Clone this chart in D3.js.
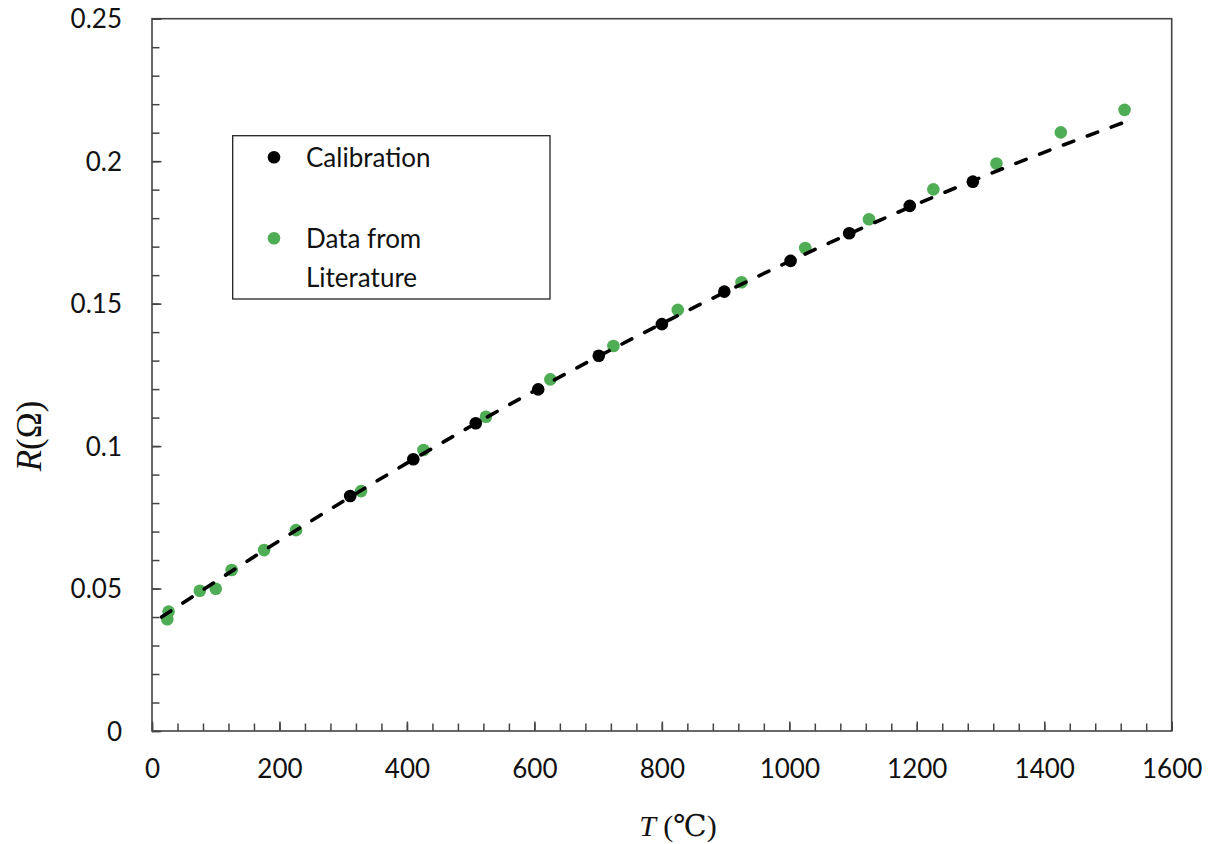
<!DOCTYPE html>
<html>
<head>
<meta charset="utf-8">
<script src="https://cdn.jsdelivr.net/npm/d3@7"></script>
<style>
  html, body { margin: 0; padding: 0; background: #fff; }
  svg { display: block; }
</style>
</head>
<body>
<svg id="chart" width="1216" height="844"></svg>
<script>
// ---- Data ----
const calT = [311, 410, 508, 606, 701, 800, 898, 1002, 1094, 1189, 1288];
const calR = [0.0825, 0.0954, 0.1080, 0.1199, 0.1317, 0.1428, 0.1542, 0.1650, 0.1747, 0.1843, 0.1928];

const litT = [24, 26, 75, 100, 125, 176, 226, 328, 426, 524, 625, 724, 825, 925, 1025, 1125, 1226, 1325, 1426, 1526];
const litR = [0.0392, 0.0419, 0.0492, 0.0499, 0.0565, 0.0635, 0.0705, 0.0842, 0.0986, 0.1103, 0.1234, 0.1351, 0.1478, 0.1575, 0.1695, 0.1796, 0.1901, 0.1992, 0.2101, 0.2180];

// dashed trend line
const trendT = [15, 200, 400, 600, 800, 1000, 1200, 1400, 1525];
const trendR = [0.0400, 0.0668, 0.0940, 0.1194, 0.1430, 0.1648, 0.1849, 0.2031, 0.2136];

const xTickValues = [0, 200, 400, 600, 800, 1000, 1200, 1400, 1600];
const yTickValues = [0, 0.05, 0.1, 0.15, 0.2, 0.25];
const yTickLabels = ["0", "0.05", "0.1", "0.15", "0.2", "0.25"];
const legendLabels = ["Calibration", ["Data from", "Literature"]];

// ---- Layout ----
const svg = d3.select("#chart");
const pLeft = 152, pRight = 1171.7, pTop = 18.7, pBottom = 731;
const x = d3.scaleLinear().domain([0, 1600]).range([pLeft, pRight]);
const y = d3.scaleLinear().domain([0, 0.25]).range([pBottom, pTop]);

const axisColor = "#444";
const tickFont = "Lato, 'Open Sans', sans-serif";
const green = "#4FAE55";

// frame
svg.append("rect")
  .attr("x", pLeft).attr("y", pTop)
  .attr("width", pRight - pLeft).attr("height", pBottom - pTop)
  .attr("fill", "none").attr("stroke", axisColor).attr("stroke-width", 1.6);

// minor ticks
const xMinor = d3.range(0, 1601, 40);
const yMinor = d3.range(0, 26).map(i => i / 100);

svg.append("g").attr("transform", `translate(0,${pBottom})`)
  .call(d3.axisBottom(x).tickValues(xMinor).tickSize(-7.5).tickFormat(""))
  .call(g => g.select(".domain").remove())
  .call(g => g.selectAll("line").attr("stroke", axisColor).attr("stroke-width", 1.5));

svg.append("g").attr("transform", `translate(${pLeft},0)`)
  .call(d3.axisLeft(y).tickValues(yMinor).tickSize(-7.5).tickFormat(""))
  .call(g => g.select(".domain").remove())
  .call(g => g.selectAll("line").attr("stroke", axisColor).attr("stroke-width", 1.5));

// major ticks with labels
svg.append("g").attr("transform", `translate(0,${pBottom})`)
  .call(d3.axisBottom(x).tickValues(xTickValues).tickSize(-9.5).tickFormat(d3.format("d")))
  .call(g => g.select(".domain").remove())
  .call(g => g.selectAll("line").attr("stroke", axisColor).attr("stroke-width", 1.5))
  .call(g => g.selectAll("text").attr("font-family", tickFont).attr("font-size", 26)
    .attr("fill", "#111").attr("dy", "0.71em").attr("y", 29));

svg.append("g").attr("transform", `translate(${pLeft},0)`)
  .call(d3.axisLeft(y).tickValues(yTickValues).tickSize(-9.5).tickFormat((d, i) => yTickLabels[i]))
  .call(g => g.select(".domain").remove())
  .call(g => g.selectAll("line").attr("stroke", axisColor).attr("stroke-width", 1.5))
  .call(g => g.selectAll("text").attr("font-family", tickFont).attr("font-size", 26)
    .attr("fill", "#111").attr("x", -30).attr("dy", "0.35em"));

// ---- Marks ----
const litData = litT.map((t, i) => ({ t, r: litR[i] }));
const calData = calT.map((t, i) => ({ t, r: calR[i] }));
const trendData = trendT.map((t, i) => ({ t, r: trendR[i] }));

svg.append("g").selectAll("circle").data(litData).join("circle")
  .attr("cx", d => x(d.t)).attr("cy", d => y(d.r)).attr("r", 6.3).attr("fill", green);

svg.append("g").selectAll("circle").data(calData).join("circle")
  .attr("cx", d => x(d.t)).attr("cy", d => y(d.r)).attr("r", 6.3).attr("fill", "#000");

svg.append("path").datum(trendData)
  .attr("d", d3.line().x(d => x(d.t)).y(d => y(d.r)).curve(d3.curveMonotoneX))
  .attr("fill", "none").attr("stroke", "#000").attr("stroke-width", 3.6)
  .attr("stroke-linecap", "round").attr("stroke-dasharray", "11,14.5");

// ---- Legend ----
const lg = svg.append("g");
lg.append("rect").attr("x", 232.7).attr("y", 135.7).attr("width", 317.3).attr("height", 163.3)
  .attr("fill", "#fff").attr("stroke", "#222").attr("stroke-width", 1.3);
lg.append("circle").attr("cx", 274).attr("cy", 157.3).attr("r", 6.3).attr("fill", "#000");
lg.append("circle").attr("cx", 274).attr("cy", 238.3).attr("r", 6.3).attr("fill", green);
lg.append("text").attr("x", 306).attr("y", 166.5).text(legendLabels[0])
  .attr("font-family", tickFont).attr("font-size", 26).attr("fill", "#111");
lg.append("text").attr("x", 306).attr("y", 247.5).text(legendLabels[1][0])
  .attr("font-family", tickFont).attr("font-size", 26).attr("fill", "#111");
lg.append("text").attr("x", 306).attr("y", 286.5).text(legendLabels[1][1])
  .attr("font-family", tickFont).attr("font-size", 26).attr("fill", "#111");

// ---- Axis titles ----
const serif = "'Liberation Serif', 'DejaVu Serif', serif";
const xt = svg.append("text").attr("x", 678).attr("y", 836).attr("text-anchor", "middle")
  .attr("font-family", serif).attr("font-size", 30).attr("fill", "#111");
xt.append("tspan").attr("font-style", "italic").text("T");
xt.append("tspan").text(" (℃)");

const yt = svg.append("text").attr("transform", "translate(41,436) rotate(-90)")
  .attr("text-anchor", "middle")
  .attr("font-family", serif).attr("font-size", 35).attr("fill", "#111");
yt.append("tspan").attr("font-style", "italic").text("R");
yt.append("tspan").text("(Ω)");
</script>
</body>
</html>
